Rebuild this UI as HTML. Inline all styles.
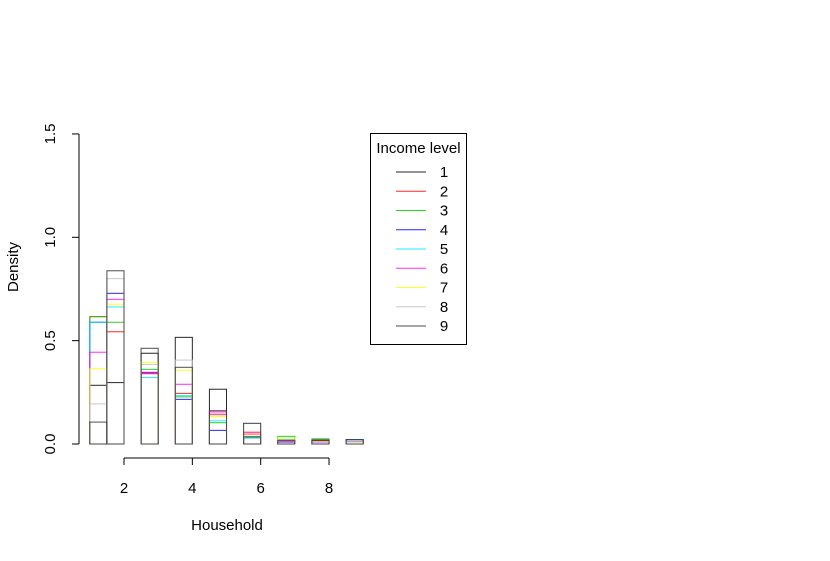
<!DOCTYPE html>
<html><head><meta charset="utf-8"><style>
body{margin:0;background:#fff}
svg text{font-family:"Liberation Sans",sans-serif;fill:#000}
</style></head><body>
<svg id="chart" width="830" height="556" xmlns="http://www.w3.org/2000/svg">
<g id="bars"></g>
<g id="axes"></g>
<g id="legend"></g>
</svg>
<script>
const bins = [1,2,3,4,5,6,7,8,9];
const levels = ["1","2","3","4","5","6","7","8","9"];
const colors = ["#000000","#ff0000","#00cd00","#0000ff","#00e5ff","#ff00ff","#ffff00","#bebebe","#303030"];
const level1 = [0.284,0.297,0.439,0.516,0.265,0.035,0.018,0.019,0.021];
const level2 = [0.616,0.543,0.340,0.245,0.144,0.057,0.010,0.016,0.011];
const level3 = [0.616,0.589,0.361,0.228,0.103,0.032,0.037,0.025,0.010];
const level4 = [0.589,0.729,0.345,0.216,0.066,0.030,0.010,0.010,0.021];
const level5 = [0.589,0.663,0.322,0.234,0.112,0.030,0.020,0.010,0.021];
const level6 = [0.444,0.700,0.347,0.289,0.155,0.048,0.012,0.010,0.011];
const level7 = [0.364,0.676,0.395,0.357,0.133,0.040,0.028,0.012,0.010];
const level8 = [0.194,0.800,0.385,0.406,0.140,0.100,0.015,0.012,0.010];
const level9 = [0.106,0.838,0.463,0.371,0.161,0.100,0.018,0.019,0.021];
const series = [level1,level2,level3,level4,level5,level6,level7,level8,level9];
const yTicks = [0,0.5,1,1.5];
const yLabels = ["0.0","0.5","1.0","1.5"];
const xTicks = [2,4,6,8];

const NS="http://www.w3.org/2000/svg";
const xs = v => 124 + (v-2)*34.17;
const ys = v => 444 - v*206.7;
function mk(tag, attrs, parent){const e=document.createElementNS(NS,tag);for(const k in attrs)e.setAttribute(k,attrs[k]);parent.appendChild(e);return e;}

const gb=document.getElementById('bars');
series.forEach((s,li)=>{
  s.forEach((v,bi)=>{
    const b=bins[bi];
    const x0=xs(b===1?1:b-0.5), x1=xs(b===1?1.5:b);
    const r=mk('rect',{x:x0,y:ys(v),width:x1-x0,height:ys(0)-ys(v),fill:'none',stroke:colors[li],'stroke-width':1,opacity:0.85},gb);
    
    
  });
});

const ga=document.getElementById('axes');
let l=mk('line',{x1:79,y1:ys(1.5),x2:79,y2:ys(0),stroke:'#000'},ga);

yTicks.forEach((t,i)=>{
  mk('line',{x1:72,y1:ys(t),x2:79,y2:ys(t),stroke:'#000'},ga);
  const tx=mk('text',{x:55,y:ys(t),'font-size':15,'text-anchor':'middle',transform:`rotate(-90 55 ${ys(t)})`},ga);
  tx.textContent=yLabels[i];
  
});
l=mk('line',{x1:xs(2),y1:458,x2:xs(8),y2:458,stroke:'#000'},ga);

xTicks.forEach(t=>{
  mk('line',{x1:xs(t),y1:458,x2:xs(t),y2:465,stroke:'#000'},ga);
  const tx=mk('text',{x:xs(t),y:493,'font-size':15,'text-anchor':'middle'},ga);
  tx.textContent=t;
  
});
let t=mk('text',{x:227,y:530,'font-size':15,'text-anchor':'middle'},ga);
t.textContent='Household';
t=mk('text',{x:18,y:267,'font-size':15,'text-anchor':'middle',transform:'rotate(-90 18 267)'},ga);
t.textContent='Density';

const gl=document.getElementById('legend');
let box=mk('rect',{x:370.5,y:133.5,width:96,height:211,fill:'none',stroke:'#000'},gl);

t=mk('text',{x:418.5,y:153,'font-size':15,'text-anchor':'middle'},gl);
t.textContent='Income level';
levels.forEach((lv,i)=>{
  const y=172+i*19.25;
  const g=mk('g',{},gl);
  
  mk('line',{x1:396,y1:y,x2:426,y2:y,stroke:colors[i],opacity:0.85},g);
  const tx=mk('text',{x:444,y:y+5,'font-size':15,'text-anchor':'middle'},g);
  tx.textContent=lv;
});
</script>
</body></html>
